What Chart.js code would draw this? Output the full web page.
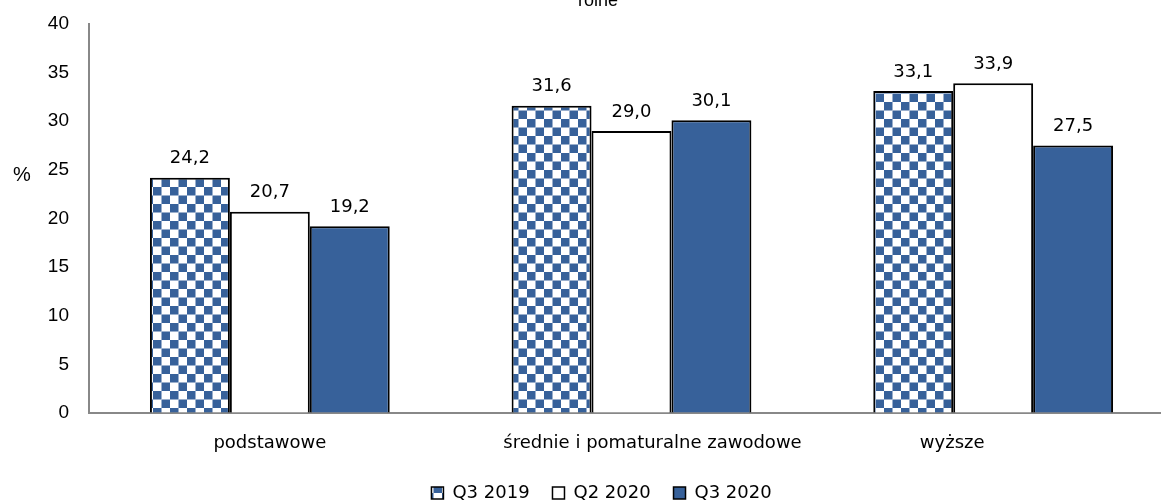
<!DOCTYPE html>
<html lang="pl">
<head>
  <meta charset="UTF-8" />
  <title>Wykres</title>
  <script src="https://cdn.jsdelivr.net/npm/chart.js@4.4.3/dist/chart.umd.min.js"></script>
  <style>
    html, body {
      margin: 0;
      padding: 0;
      background: #fff;
      overflow: hidden;
    }
    .wrap {
      width: 1180px;
      height: 504px;
    }
  </style>
</head>
<body>
  <div class="wrap">
    <canvas id="wykres" width="1180" height="504"></canvas>
  </div>

  <script>
    // dane
    const kategorie = ['podstawowe', 'średnie i pomaturalne zawodowe', 'wyższe'];
    const serie = ['Q3 2019', 'Q2 2020', 'Q3 2020'];
    const q3_2019 = [24.2, 31.6, 33.1];
    const q2_2020 = [20.7, 29.0, 33.9];
    const q3_2020 = [19.2, 30.1, 27.5];
    const yTicks = [0, 5, 10, 15, 20, 25, 30, 35, 40];

    const niebieski = '#37619a';
    // podpisy kategorii w oryginale nie są dokładnie pod grupami (px)
    const przesuniecieEtykiet = [0, 21, -41];

    // szachownica dla Q3 2019
    function szachownica() {
      const c = document.createElement('canvas');
      c.width = 17;
      c.height = 17;
      const g = c.getContext('2d');
      g.fillStyle = '#ffffff';
      g.fillRect(0, 0, 17, 17);
      g.fillStyle = niebieski;
      g.fillRect(0, 0, 8.5, 8.5);
      g.fillRect(8.5, 8.5, 8.5, 8.5);
      return document.getElementById('wykres').getContext('2d').createPattern(c, 'repeat');
    }

    const wzor = szachownica();

    const etykietyPlugin = {
      id: 'etykiety',
      afterLayout(chart) {
        // legenda w oryginale jest trochę na prawo
        chart.legend.left += 26;
        chart.legend.right += 26;
      },
      afterDatasetsDraw(chart) {
        const ctx = chart.ctx;
        ctx.save();
        ctx.font = '18px "DejaVu Sans", sans-serif';
        ctx.fillStyle = '#000';
        ctx.textAlign = 'center';
        ctx.textBaseline = 'bottom';
        chart.data.datasets.forEach((ds, i) => {
          chart.getDatasetMeta(i).data.forEach((bar, j) => {
            ctx.fillText(ds.data[j].toFixed(1).replace('.', ','), bar.x, bar.y - 10);
          });
        });
        // podpisy osi X
        const x = chart.scales.x;
        ctx.textBaseline = 'middle';
        chart.data.labels.forEach((lab, i) => {
          ctx.fillText(lab, x.getPixelForTick(i) + przesuniecieEtykiet[i], x.top + 30);
        });
        // tytuł osi Y i urwany tytuł wykresu
        ctx.font = '20px "Liberation Sans", Arial, sans-serif';
        ctx.fillText('%', 22, chart.scales.y.getPixelForValue(24.4));
        ctx.font = '18px "Liberation Sans", Arial, sans-serif';
        ctx.textBaseline = 'alphabetic';
        ctx.fillText('rolne', 598, 6);
        ctx.restore();
      }
    };

    new Chart(document.getElementById('wykres'), {
      type: 'bar',
      data: {
        labels: kategorie,
        datasets: [
          { label: serie[0], data: q3_2019, backgroundColor: wzor, borderColor: '#000', borderWidth: 2 },
          { label: serie[1], data: q2_2020, backgroundColor: '#ffffff', borderColor: '#000', borderWidth: 2 },
          { label: serie[2], data: q3_2020, backgroundColor: niebieski, borderColor: '#000', borderWidth: 2 }
        ]
      },
      options: {
        responsive: false,
        animation: false,
        layout: { padding: { top: 24, right: 6, left: 0, bottom: -8 } },
        datasets: {
          bar: { barPercentage: 1, categoryPercentage: 0.663 }
        },
        scales: {
          y: {
            min: 0,
            max: 40,
            afterBuildTicks: axis => { axis.ticks = yTicks.map(v => ({ value: v })); },
            afterFit: axis => { axis.width = 89; },
            grid: { display: true, color: 'rgba(0,0,0,0)', drawTicks: true, tickLength: 20 },
            border: { display: true, color: '#888', width: 2 },
            ticks: {
              padding: 0,
              color: '#000',
              font: { family: '"Liberation Sans", Arial, sans-serif', size: 19 }
            }
          },
          x: {
            afterFit: axis => { axis.height = 71; },
            grid: { display: false, drawTicks: false },
            border: { display: true, color: '#888', width: 2 },
            ticks: {
              padding: 19,
              color: 'rgba(0,0,0,0)',
              maxRotation: 0,
              font: { family: '"DejaVu Sans", sans-serif', size: 18 }
            }
          }
        },
        plugins: {
          tooltip: { enabled: false },
          legend: {
            position: 'bottom',
            labels: {
              color: '#000',
              boxWidth: 12,
              boxHeight: 12,
              padding: 0,
              font: { family: '"DejaVu Sans", sans-serif', size: 18 },
              generateLabels: chart => chart.data.datasets.map((ds, i) => ({
                text: ds.label + '    ',
                fillStyle: ds.backgroundColor,
                strokeStyle: '#000',
                lineWidth: 1.5,
                datasetIndex: i
              }))
            }
          }
        }
      },
      plugins: [etykietyPlugin]
    });
  </script>
</body>
</html>
